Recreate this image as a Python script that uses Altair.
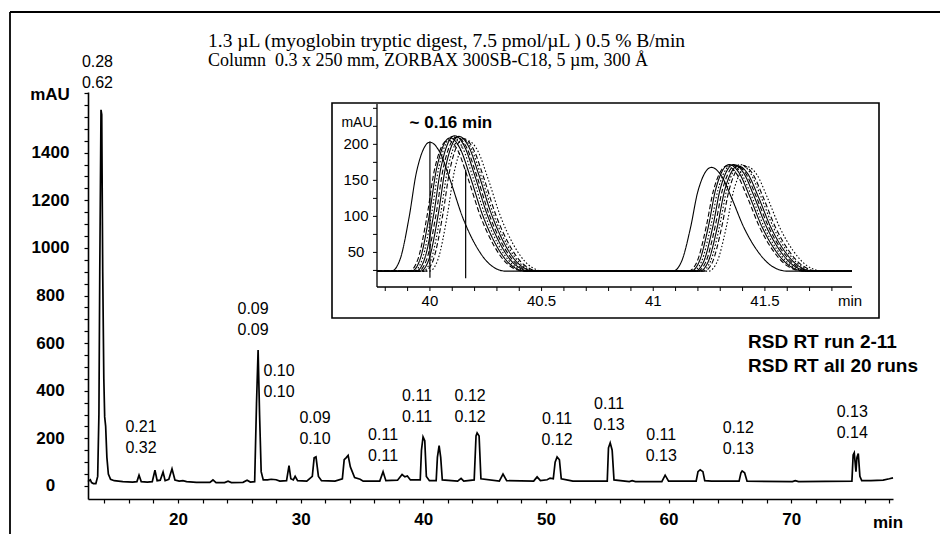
import altair as alt
import pandas as pd

# ---------------- data ----------------
# main chromatogram trace (min, mAU)
main_time = [12.66, 12.75, 12.85, 12.95, 13.10, 13.30, 13.45, 13.55, 13.62, 13.72, 13.78, 13.86, 13.95,
             14.02, 14.10, 14.20, 14.32, 14.50, 14.80, 15.50, 16.30, 16.65, 16.82, 17.00, 17.50, 17.90,
             18.12, 18.30, 18.55, 18.78, 18.95, 19.25, 19.51, 19.75, 20.10, 20.40, 20.70, 21.50, 22.60,
             22.85, 23.10, 23.80, 24.08, 24.35, 25.30, 25.63, 25.90, 26.25, 26.40, 26.53, 26.65, 26.78,
             26.95, 27.30, 27.60, 28.00, 28.30, 28.85, 29.05, 29.20, 29.40, 29.55, 29.75, 30.50, 30.95,
             31.10, 31.25, 31.45, 31.70, 32.80, 33.40, 33.55, 33.70, 33.87, 34.05, 34.19, 34.40, 34.85,
             35.10, 36.45, 36.72, 36.95, 37.90, 38.27, 38.50, 38.70, 38.95, 39.75, 39.85, 39.98, 40.12,
             40.25, 40.50, 41.05, 41.15, 41.29, 41.42, 41.55, 42.80, 43.08, 43.30, 44.15, 44.30, 44.39,
             44.55, 44.70, 46.20, 46.50, 46.80, 49.00, 49.28, 49.55, 50.10, 50.34, 50.60, 50.75, 50.91,
             51.10, 51.25, 52.00, 52.20, 55.00, 55.10, 55.24, 55.40, 55.55, 56.80, 57.03, 57.30, 59.45,
             59.72, 60.00, 62.25, 62.40, 62.58, 62.80, 62.95, 63.50, 65.75, 65.90, 66.00, 66.20, 66.40,
             70.10, 70.33, 70.60, 74.95, 75.05, 75.14, 75.28, 75.36, 75.47, 75.60, 75.75, 76.50, 77.50,
             78.00, 78.30]
main_mau = [18, 22, 26, 14, 10, 10, 40, 300, 900, 1580, 1560, 900, 450,
            290, 250, 120, 50, 28, 22, 18, 16, 18, 45, 18, 16, 18,
            66, 22, 24, 58, 22, 28, 72, 25, 20, 22, 18, 15, 15,
            25, 14, 14, 20, 14, 15, 24, 16, 18, 345, 571, 300, 60,
            25, 25, 28, 26, 20, 22, 85, 30, 25, 40, 22, 20, 40,
            118, 122, 40, 22, 20, 30, 110, 118, 128, 80, 62, 35, 28,
            20, 20, 60, 22, 24, 48, 38, 42, 25, 25, 150, 206, 190,
            40, 22, 22, 120, 169, 120, 25, 20, 32, 20, 25, 210, 223,
            210, 30, 20, 50, 22, 20, 38, 22, 26, 33, 30, 100, 122,
            110, 30, 22, 20, 20, 160, 181, 150, 25, 18, 22, 18, 18,
            45, 20, 20, 60, 68, 60, 22, 20, 20, 55, 63, 55, 20,
            18, 22, 18, 20, 130, 139, 60, 120, 136, 40, 22, 22, 24,
            30, 34]

# RSD labels above the peaks (time, mAU of the upper line)
label_time = [13.43, 16.98, 26.12, 28.24, 31.17, 36.72, 39.49, 43.82, 50.91, 55.15, 59.40, 65.68, 74.98]
label_mau = [1781, 248, 744, 483, 286, 214, 378, 378, 282, 345, 214, 244, 311]
rsd_run_2_11 = ["0.28", "0.21", "0.09", "0.10", "0.09", "0.11", "0.11", "0.12", "0.11", "0.11", "0.11", "0.12", "0.13"]
rsd_all_20 = ["0.62", "0.32", "0.09", "0.10", "0.10", "0.11", "0.11", "0.12", "0.12", "0.13", "0.13", "0.13", "0.14"]

# inset: overlaid runs, two peaks
inset_apex_a = [40.00, 40.08, 40.09, 40.10, 40.11, 40.12, 40.13, 40.14, 40.15, 40.17]
inset_height_a = [203, 206, 209, 211, 212, 210, 211, 209, 208, 205]
inset_apex_b = [41.26, 41.33, 41.34, 41.35, 41.36, 41.37, 41.38, 41.39, 41.40, 41.42]
inset_height_b = [168, 170, 172, 171, 172, 171, 170, 172, 171, 169]
inset_baseline = 24
# peak profile read from the first run (min from apex, fraction of height)
shape_dt = [-0.172, -0.134, -0.093, -0.060, 0.0, 0.045, 0.090, 0.146, 0.205, 0.270, 0.340]
shape_frac = [0.0, 0.09, 0.42, 0.77, 1.0, 0.92, 0.71, 0.42, 0.20, 0.05, 0.0]
inset_start, inset_mid, inset_end = 39.763, 40.80, 41.89
inset_marker_time = [40.00, 40.16]
inset_marker_top = [204, 165]
inset_marker_bottom = [15, 14]
inset_y_labels = [50, 100, 150, 200]
inset_x_labels = [40, 40.5, 41, 41.5]

# line style of each run
run_style = ["solid", "dashed", "solid", "dotted", "solid", "dashed", "solid", "dotted", "dashed", "dotted"]

# ---------------- build tables ----------------
main_df = pd.DataFrame({"t": main_time, "mau": main_mau})
lab_df = pd.DataFrame({"t": label_time, "mau": label_mau, "a": rsd_run_2_11, "b": rsd_all_20})

rows = []
for i in range(len(inset_apex_a)):
    pts = [(inset_start, inset_baseline)]
    apex, h = inset_apex_a[i], inset_height_a[i]
    pts += [(apex + d, inset_baseline + f * (h - inset_baseline)) for d, f in zip(shape_dt, shape_frac)]
    pts.append((inset_mid, inset_baseline))
    apex, h = inset_apex_b[i], inset_height_b[i]
    pts += [(apex + d, inset_baseline + f * (h - inset_baseline)) for d, f in zip(shape_dt, shape_frac)]
    pts.append((inset_end, inset_baseline))
    for k, (t, v) in enumerate(pts):
        rows.append({"run": i, "style": run_style[i], "t": t, "v": v, "k": k})
inset_df = pd.DataFrame(rows)
marker_df = pd.DataFrame({"t": inset_marker_time, "top": inset_marker_top, "bot": inset_marker_bottom})

SANS = "Liberation Sans, Arial, Helvetica, sans-serif"
SERIF = "Liberation Serif, Times New Roman, serif"

X_MAIN = alt.Scale(domain=[12.66, 78.3], nice=False, zero=False)
Y_MAIN = alt.Scale(domain=[-55, 1655], nice=False, zero=False)
X_IN = alt.Scale(domain=[inset_start, inset_end], range=[289, 764], nice=False, zero=False)
Y_IN = alt.Scale(domain=[2, 256], range=[195, 12], nice=False, zero=False)

# ---------------- main chart ----------------
x_axis = alt.Axis(values=list(range(14, 79, 2)),
                  labelExpr="datum.value % 10 == 0 ? datum.label : ''",
                  title=None, grid=False, labelFont=SANS, labelFontWeight="bold", labelFontSize=17,
                  labelColor="black", tickColor="black", tickSize=4, tickWidth=1.2,
                  domainColor="black", domainWidth=1.6, labelPadding=8, labelOverlap=False,
                  labelFlush=False)
y_axis = alt.Axis(values=list(range(0, 1651, 50)),
                  labelExpr="(datum.value % 200 == 0 && datum.value <= 1400) ? format(datum.value, 'd') : ''",
                  title=None, grid=False, labelFont=SANS, labelFontWeight="bold", labelFontSize=17,
                  labelColor="black", tickColor="black", tickSize=4, tickWidth=1.2,
                  domainColor="black", domainWidth=1.6, labelPadding=34, labelAlign="center",
                  labelBaseline="middle", labelOverlap=False, labelFlush=False)

main_line = alt.Chart(main_df).mark_line(color="black", strokeWidth=1.7).encode(
    x=alt.X("t:Q", scale=X_MAIN, axis=x_axis),
    y=alt.Y("mau:Q", scale=Y_MAIN, axis=y_axis),
)

lab_top = alt.Chart(lab_df).mark_text(font=SANS, fontSize=16, color="black", align="center",
                                      baseline="middle").encode(
    x=alt.X("t:Q", scale=X_MAIN, axis=None),
    y=alt.Y("mau:Q", scale=Y_MAIN, axis=None),
    text="a:N",
)
lab_bot = alt.Chart(lab_df).mark_text(font=SANS, fontSize=16, color="black", align="center",
                                      baseline="middle", dy=21).encode(
    x=alt.X("t:Q", scale=X_MAIN, axis=None),
    y=alt.Y("mau:Q", scale=Y_MAIN, axis=None),
    text="b:N",
)


def free_text(s, x, y, font, size, weight="normal", align="left"):
    return alt.Chart(pd.DataFrame({"s": [s]})).mark_text(
        font=font, fontSize=size, fontWeight=weight, color="black", align=align, baseline="middle"
    ).encode(x=alt.value(x), y=alt.value(y), text="s:N")


title1 = free_text("1.3 \u00b5L (myoglobin tryptic digest, 7.5 pmol/\u00b5L ) 0.5 % B/min", 120, -51, SERIF, 19.5)
title2 = free_text("Column\u00a0 0.3 x 250 mm, ZORBAX 300SB-C18, 5 \u00b5m, 300 \u00c5", 120, -31, SERIF, 18)
mau_lbl = free_text("mAU", -38, 3, SANS, 17, "bold", "center")
min_lbl = free_text("min", 800, 431, SANS, 17, "bold", "center")
rsd1 = free_text("RSD RT run 2-11", 660, 250, SANS, 19, "bold")
rsd2 = free_text("RSD RT all 20 runs", 660, 274, SANS, 19, "bold")

dummy = pd.DataFrame({"a": [0]})
frame_left = alt.Chart(dummy).mark_rule(color="black", strokeWidth=1.8).encode(
    x=alt.value(-78), y=alt.value(-80), y2=alt.value(442))
frame_top = alt.Chart(dummy).mark_rule(color="black", strokeWidth=1.8).encode(
    x=alt.value(-78), x2=alt.value(852), y=alt.value(-80))

# ---------------- inset ----------------
inset_box = alt.Chart(dummy).mark_rect(fill="white", stroke="black", strokeWidth=1.6).encode(
    x=alt.value(244), x2=alt.value(791), y=alt.value(11), y2=alt.value(226))

ax_df = pd.DataFrame({"x0": [inset_start], "x1": [inset_end], "y0": [2], "y1": [256]})
in_xdom = alt.Chart(ax_df).mark_rule(color="black", strokeWidth=1.3).encode(
    x=alt.X("x0:Q", scale=X_IN, axis=None), x2="x1:Q",
    y=alt.Y("y0:Q", scale=Y_IN, axis=None))
in_ydom = alt.Chart(ax_df).mark_rule(color="black", strokeWidth=1.3).encode(
    x=alt.X("x0:Q", scale=X_IN, axis=None),
    y=alt.Y("y0:Q", scale=Y_IN, axis=None), y2="y1:Q")

xt_df = pd.DataFrame({"t": [round(39.8 + 0.1 * i, 2) for i in range(21)], "y0": 2})
in_xticks = alt.Chart(xt_df).mark_rule(color="black", strokeWidth=1, y2Offset=4).encode(
    x=alt.X("t:Q", scale=X_IN, axis=None),
    y=alt.Y("y0:Q", scale=Y_IN, axis=None), y2="y0:Q")
yt_df = pd.DataFrame({"v": list(range(25, 251, 25)), "x0": inset_start})
in_yticks = alt.Chart(yt_df).mark_rule(color="black", strokeWidth=1, xOffset=-4).encode(
    x=alt.X("x0:Q", scale=X_IN, axis=None), x2="x0:Q",
    y=alt.Y("v:Q", scale=Y_IN, axis=None))

xl_df = pd.DataFrame({"t": inset_x_labels, "y0": 2, "s": ["40", "40.5", "41", "41.5"]})
in_xlabels = alt.Chart(xl_df).mark_text(font=SANS, fontSize=15, color="black", align="center",
                                        baseline="middle", dy=14).encode(
    x=alt.X("t:Q", scale=X_IN, axis=None), y=alt.Y("y0:Q", scale=Y_IN, axis=None), text="s:N")
yl_df = pd.DataFrame({"v": inset_y_labels, "x0": inset_start})
in_ylabels = alt.Chart(yl_df).mark_text(font=SANS, fontSize=15, color="black", align="center",
                                        baseline="middle", dx=-21).encode(
    x=alt.X("x0:Q", scale=X_IN, axis=None), y=alt.Y("v:Q", scale=Y_IN, axis=None), text="v:N")

in_texts_df = pd.DataFrame({"t": [inset_start, 40.094, 41.881], "v": [229.6, 229.6, 2],
                            "s": ["mAU", "~ 0.16 min", "min"]})
in_mau = alt.Chart(in_texts_df.iloc[[0]]).mark_text(font=SANS, fontSize=14, color="black",
                                                   align="center", baseline="middle", dx=-20).encode(
    x=alt.X("t:Q", scale=X_IN, axis=None), y=alt.Y("v:Q", scale=Y_IN, axis=None), text="s:N")
in_016 = alt.Chart(in_texts_df.iloc[[1]]).mark_text(font=SANS, fontSize=17, fontWeight="bold",
                                                   color="black", align="center", baseline="middle").encode(
    x=alt.X("t:Q", scale=X_IN, axis=None), y=alt.Y("v:Q", scale=Y_IN, axis=None), text="s:N")
in_min = alt.Chart(in_texts_df.iloc[[2]]).mark_text(font=SANS, fontSize=15, color="black",
                                                   align="center", baseline="middle", dy=14).encode(
    x=alt.X("t:Q", scale=X_IN, axis=None), y=alt.Y("v:Q", scale=Y_IN, axis=None), text="s:N")

in_lines = alt.Chart(inset_df).mark_line(color="black", strokeWidth=1.1, interpolate="monotone").encode(
    x=alt.X("t:Q", scale=X_IN, axis=None),
    y=alt.Y("v:Q", scale=Y_IN, axis=None),
    detail="run:N",
    order="k:Q",
    strokeDash=alt.StrokeDash("style:N", legend=None,
                              scale=alt.Scale(domain=["solid", "dashed", "dotted"],
                                              range=[[1, 0], [5, 2.5], [1.5, 2]])),
)
in_markers = alt.Chart(marker_df).mark_rule(color="black", strokeWidth=1.2).encode(
    x=alt.X("t:Q", scale=X_IN, axis=None),
    y=alt.Y("bot:Q", scale=Y_IN, axis=None), y2="top:Q")

chart = alt.layer(
    frame_left, frame_top, main_line, lab_top, lab_bot, title1, title2, mau_lbl, min_lbl, rsd1, rsd2,
    inset_box, in_lines, in_markers, in_xdom, in_ydom, in_xticks, in_yticks, in_xlabels, in_ylabels,
    in_mau, in_016, in_min,
).resolve_scale(
    x="independent", y="independent", strokeDash="independent"
).properties(
    width=805, height=407,
    autosize=alt.AutoSizeParams(type="none"),
    padding={"left": 80, "top": 84, "right": 47, "bottom": 35},
    background="white",
).configure_view(stroke=None)

chart.save("out.html", embed_options={"renderer": "svg", "actions": False})
